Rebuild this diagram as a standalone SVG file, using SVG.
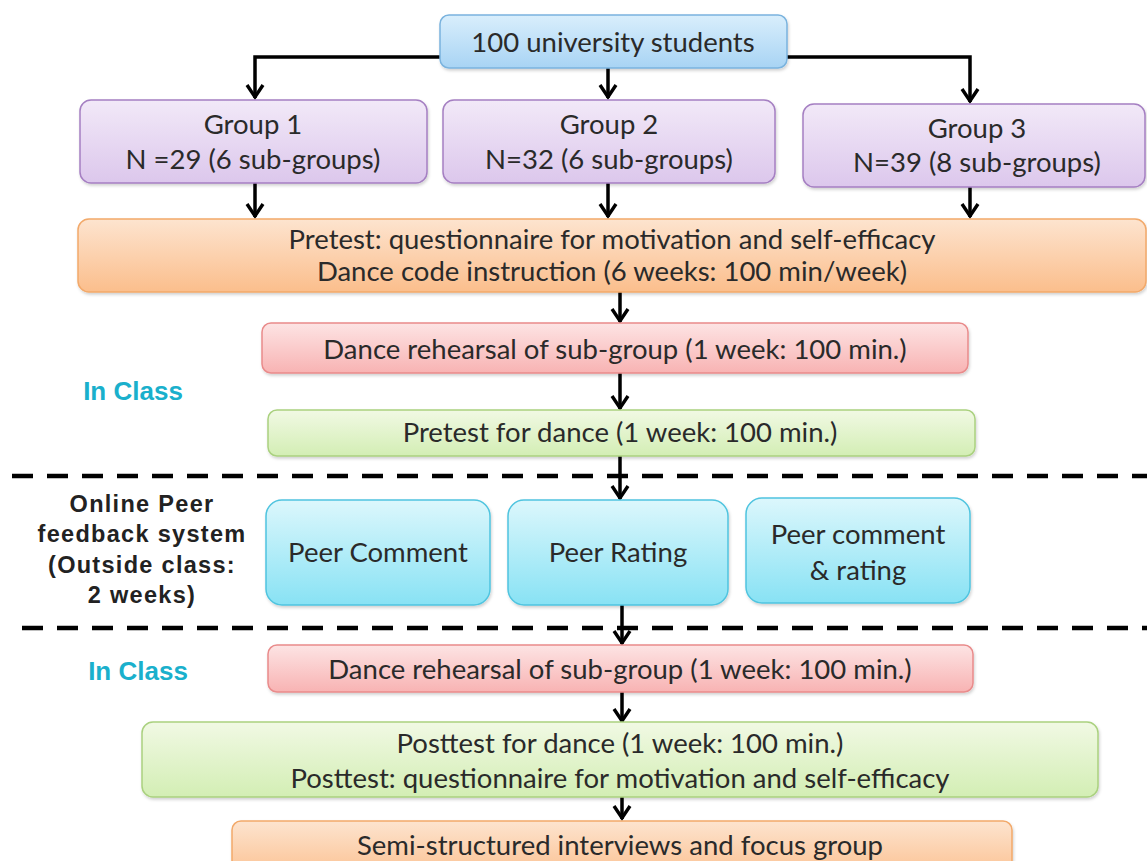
<svg xmlns="http://www.w3.org/2000/svg" width="1147" height="861" viewBox="0 0 1147 861">
<defs>
<linearGradient id="gBlue" x1="0" y1="0" x2="0" y2="1"><stop offset="0" stop-color="#d9eefc"/><stop offset="1" stop-color="#a8d4f4"/></linearGradient>
<linearGradient id="gPurple" x1="0" y1="0" x2="0" y2="1"><stop offset="0" stop-color="#f2e9f8"/><stop offset="1" stop-color="#dcc7ec"/></linearGradient>
<linearGradient id="gOrange" x1="0" y1="0" x2="0" y2="1"><stop offset="0" stop-color="#fde4cf"/><stop offset="1" stop-color="#fbbe8c"/></linearGradient>
<linearGradient id="gRed" x1="0" y1="0" x2="0" y2="1"><stop offset="0" stop-color="#fde4e4"/><stop offset="1" stop-color="#f8b3b3"/></linearGradient>
<linearGradient id="gGreen" x1="0" y1="0" x2="0" y2="1"><stop offset="0" stop-color="#f1f9e4"/><stop offset="1" stop-color="#d3eeb4"/></linearGradient>
<linearGradient id="gCyan" x1="0" y1="0" x2="0" y2="1"><stop offset="0" stop-color="#dcf7fc"/><stop offset="1" stop-color="#88e2f4"/></linearGradient>
<filter id="sh" x="-5%" y="-10%" width="110%" height="130%"><feDropShadow dx="1" dy="2" stdDeviation="1.5" flood-color="#000" flood-opacity="0.18"/></filter>
<marker id="arr" markerWidth="20" markerHeight="20" viewBox="0 0 20 20" refX="16" refY="10" orient="auto" markerUnits="userSpaceOnUse">
<path d="M3,2 L15,10 L3,18" fill="none" stroke="#000" stroke-width="3.4" stroke-linejoin="miter"/>
</marker>
</defs>
<style>
.t{font-family:Lato,"Open Sans",sans-serif;font-size:27.5px;fill:#2a2a2a;text-anchor:middle}
.lbl{font-family:"Liberation Sans",Arial,sans-serif;font-weight:bold;font-size:23.5px;letter-spacing:1.3px;fill:#222;text-anchor:middle}
.cls{font-family:"Liberation Sans",Arial,sans-serif;font-weight:bold;font-size:26px;fill:#1ab0cc;text-anchor:middle}
.c{fill:none;stroke:#000;stroke-width:3.5}
.d{fill:none;stroke:#000;stroke-width:4.5;stroke-dasharray:21 14}
.b{filter:url(#sh)}
</style>
<rect width="1147" height="861" fill="#fff"/>

<g id="connectors">
<path class="c" d="M440,57 H255 V98" marker-end="url(#arr)"/>
<path class="c" d="M787,57 H970 V102" marker-end="url(#arr)"/>
<path class="c" d="M608,68 V98" marker-end="url(#arr)"/>
<path class="c" d="M255,183 V217" marker-end="url(#arr)"/>
<path class="c" d="M608,183 V217" marker-end="url(#arr)"/>
<path class="c" d="M970,187 V217" marker-end="url(#arr)"/>
<path class="c" d="M620,292 V322" marker-end="url(#arr)"/>
<path class="c" d="M620,373 V409" marker-end="url(#arr)"/>
<path class="c" d="M620,456 V499" marker-end="url(#arr)"/>
<path class="c" d="M622,605 V644" marker-end="url(#arr)"/>
<path class="c" d="M622,692 V722" marker-end="url(#arr)"/>
<path class="c" d="M622,797 V819" marker-end="url(#arr)"/>
</g>

<g id="dividers">
<line class="d" x1="12" y1="476" x2="1147" y2="476"/>
<line class="d" x1="22" y1="628" x2="1147" y2="628"/>
</g>

<g id="n-students"><rect class="b" x="440" y="15" width="347" height="53" rx="9" fill="url(#gBlue)" stroke="#7ab3de" stroke-width="1.5"/><text class="t" x="613" y="52">100 university students</text></g>

<g id="n-group1"><rect class="b" x="80" y="100" width="347" height="83" rx="11" fill="url(#gPurple)" stroke="#a57fc2" stroke-width="1.5"/><text class="t" x="253" y="134">Group 1</text><text class="t" x="253" y="169">N =29 (6 sub-groups)</text></g>
<g id="n-group2"><rect class="b" x="443" y="100" width="332" height="83" rx="11" fill="url(#gPurple)" stroke="#a57fc2" stroke-width="1.5"/><text class="t" x="609" y="134">Group 2</text><text class="t" x="609" y="169">N=32 (6 sub-groups)</text></g>
<g id="n-group3"><rect class="b" x="803" y="104" width="342" height="83" rx="11" fill="url(#gPurple)" stroke="#a57fc2" stroke-width="1.5"/><text class="t" x="977" y="138">Group 3</text><text class="t" x="977" y="172">N=39 (8 sub-groups)</text></g>

<g id="n-pretest"><rect class="b" x="78" y="219" width="1068" height="73" rx="11" fill="url(#gOrange)" stroke="#f2a96a" stroke-width="1.5"/><text class="t" x="612" y="249">Pretest: questionnaire for motivation and self-efficacy</text><text class="t" x="612" y="281">Dance code instruction (6 weeks: 100 min/week)</text></g>

<g id="n-rehearsal1"><rect class="b" x="262" y="323" width="706" height="50" rx="9" fill="url(#gRed)" stroke="#e98b8b" stroke-width="1.5"/><text class="t" x="615" y="359">Dance rehearsal of sub-group (1 week: 100 min.)</text></g>

<text class="cls" x="133" y="400">In Class</text>

<g id="n-pretestdance"><rect class="b" x="268" y="410" width="707" height="46" rx="9" fill="url(#gGreen)" stroke="#aad17f" stroke-width="1.5"/><text class="t" x="620" y="442">Pretest for dance (1 week: 100 min.)</text></g>

<g id="n-online"><text class="lbl" x="142" y="512">Online Peer</text><text class="lbl" x="142" y="542">feedback system</text><text class="lbl" x="142" y="573">(Outside class:</text><text class="lbl" x="142" y="603">2 weeks)</text></g>

<g id="n-peercomment"><rect class="b" x="266" y="500" width="224" height="105" rx="16" fill="url(#gCyan)" stroke="#4fc4df" stroke-width="1.5"/><text class="t" x="378" y="562">Peer Comment</text></g>
<g id="n-peerrating"><rect class="b" x="508" y="500" width="220" height="105" rx="16" fill="url(#gCyan)" stroke="#4fc4df" stroke-width="1.5"/><text class="t" x="618" y="562">Peer Rating</text></g>
<g id="n-peerboth"><rect class="b" x="746" y="498" width="224" height="105" rx="16" fill="url(#gCyan)" stroke="#4fc4df" stroke-width="1.5"/><text class="t" x="858" y="544">Peer comment</text><text class="t" x="858" y="580">&amp; rating</text></g>

<text class="cls" x="138" y="680">In Class</text>

<g id="n-rehearsal2"><rect class="b" x="268" y="645" width="705" height="47" rx="9" fill="url(#gRed)" stroke="#e98b8b" stroke-width="1.5"/><text class="t" x="620" y="679">Dance rehearsal of sub-group (1 week: 100 min.)</text></g>

<g id="n-posttest"><rect class="b" x="142" y="722" width="956" height="75" rx="11" fill="url(#gGreen)" stroke="#aad17f" stroke-width="1.5"/><text class="t" x="620" y="753">Posttest for dance (1 week: 100 min.)</text><text class="t" x="620" y="788">Posttest: questionnaire for motivation and self-efficacy</text></g>

<g id="n-interviews"><rect class="b" x="232" y="821" width="780" height="60" rx="9" fill="url(#gOrange)" stroke="#f2a96a" stroke-width="1.5"/><text class="t" x="620" y="855">Semi-structured interviews and focus group</text></g>
</svg>
